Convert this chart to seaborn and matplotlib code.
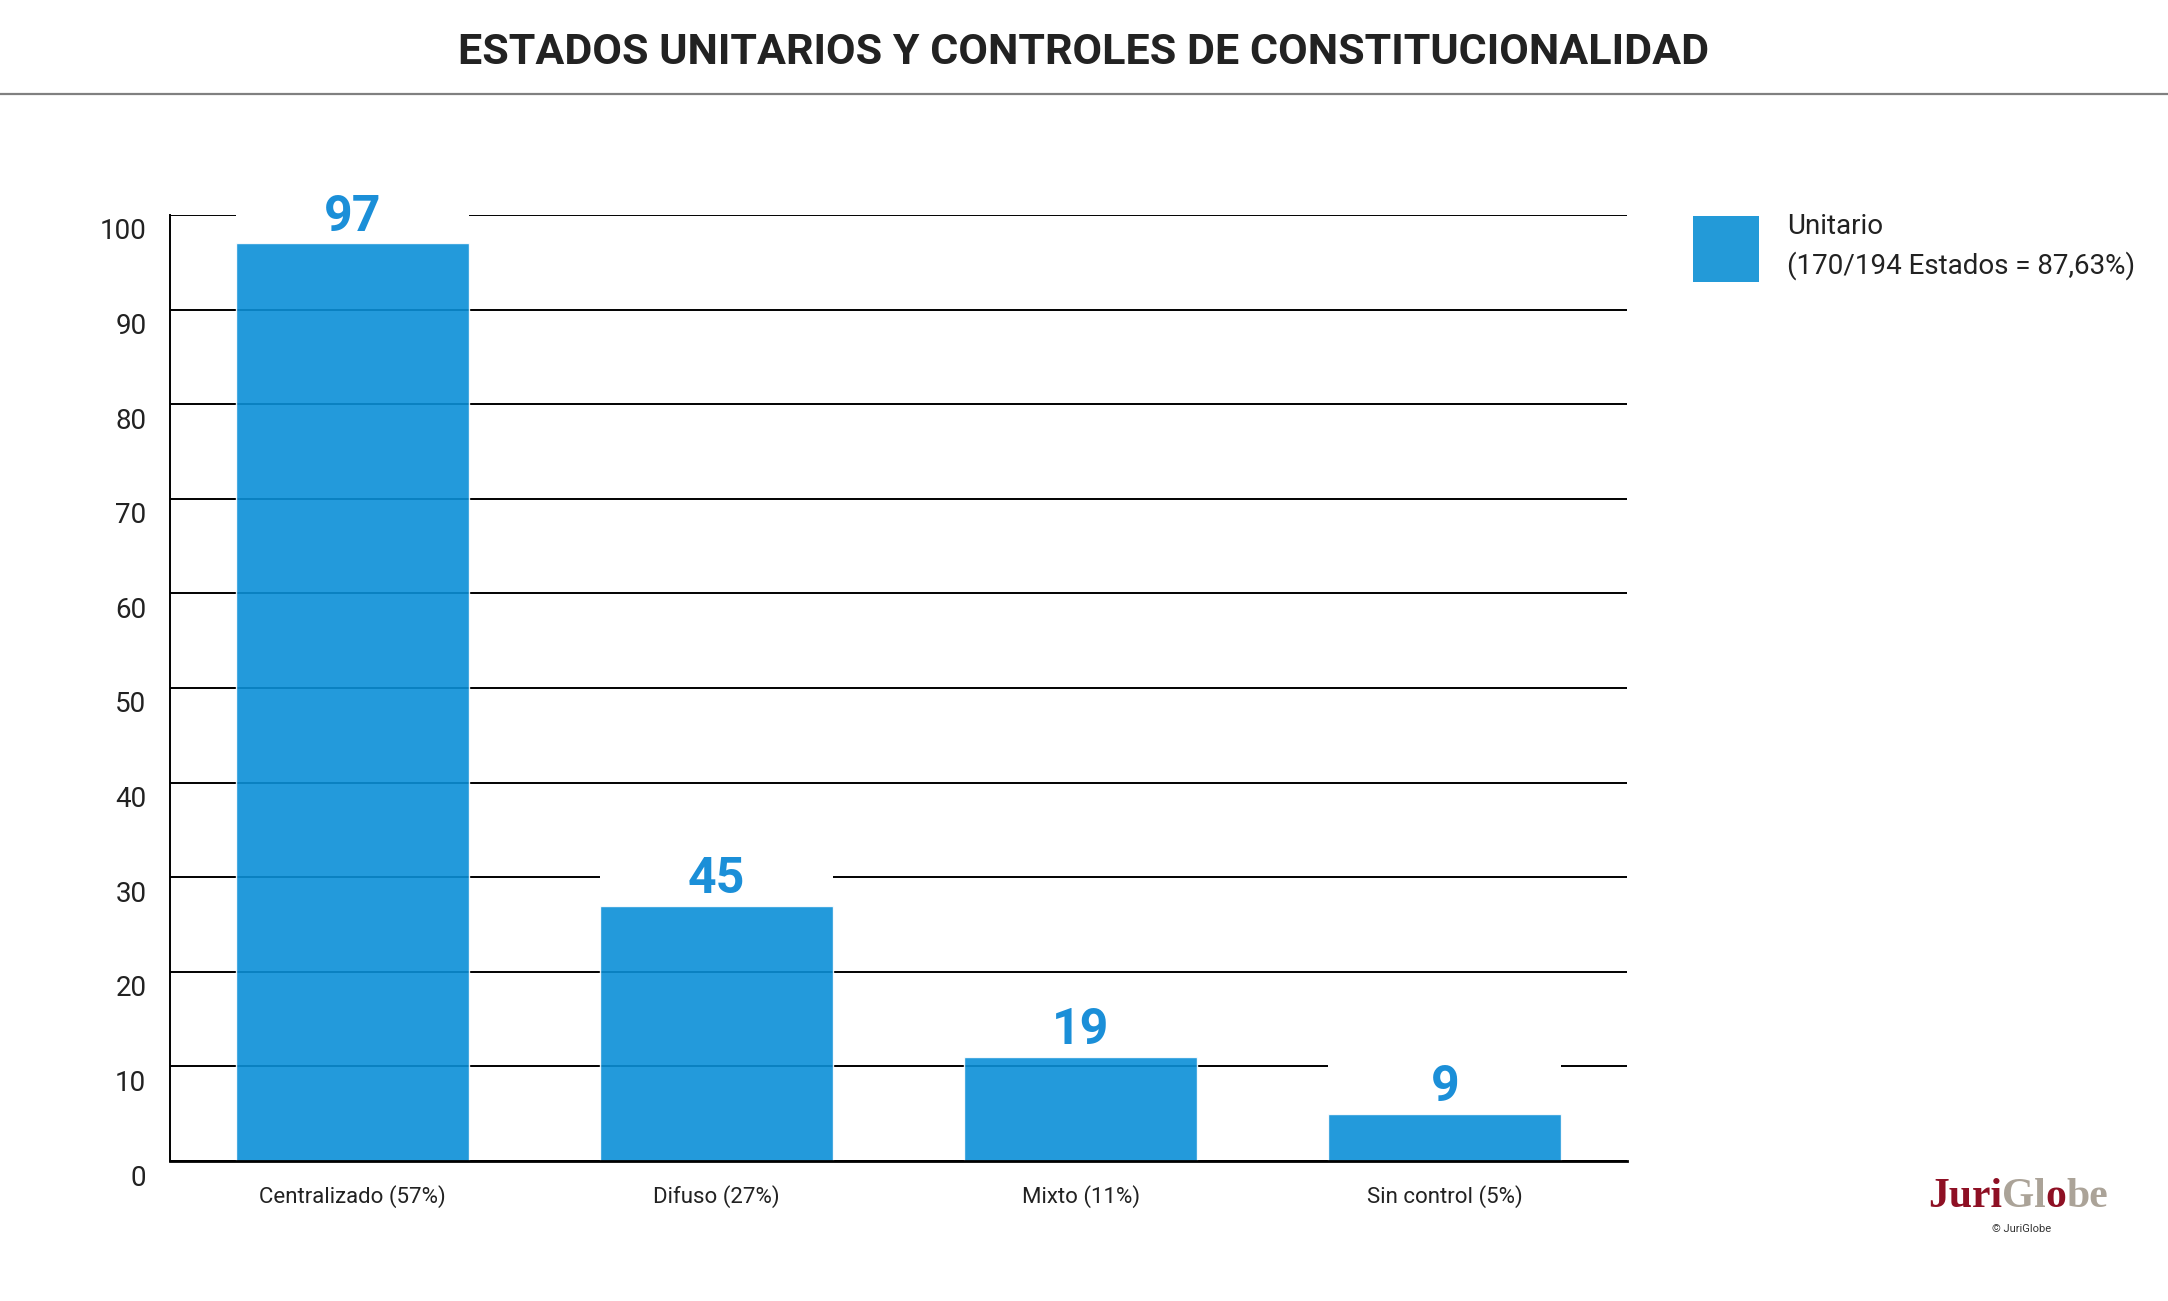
import matplotlib
matplotlib.use("Agg")
import matplotlib.pyplot as plt
import matplotlib.transforms as mtrans
from matplotlib.patches import Patch, Rectangle
from matplotlib.lines import Line2D
import pandas as pd
import seaborn as sns

# data
categories = ["Centralizado (57%)", "Difuso (27%)", "Mixto (11%)", "Sin control (5%)"]
bar_heights = [97, 27, 11, 5]
bar_labels = [97, 45, 19, 9]
y_ticks = list(range(0, 101, 10))
title = "ESTADOS UNITARIOS Y CONTROLES DE CONSTITUCIONALIDAD"
legend_label = "Unitario\n(170/194 Estados = 87,63%)"

bar_color = "#0b8fd7"
legend_color = "#239ad8"
label_color = "#1b8fd8"
text_color = "#222222"

sns.set_theme(style="white")
plt.rcParams["font.family"] = ["Roboto", "DejaVu Sans"]

df = pd.DataFrame({"categoria": categories, "valor": bar_heights})

W, H = 2168, 1301
fig = plt.figure(figsize=(W / 100, H / 100), dpi=100)
ax = fig.add_axes([170 / W, 1 - 1161 / H, (1627 - 170) / W, (1161 - 215) / H])

sns.barplot(data=df, x="categoria", y="valor", color=bar_color, width=0.64,
            saturation=1, alpha=0.9, ax=ax)

ax.set_ylim(0, 100)
ax.set_yticks(y_ticks)
ax.set_xlabel("")
ax.set_ylabel("")
ax.grid(axis="y", color="black", lw=1.4)
ax.set_axisbelow(True)
for side in ["top", "right"]:
    ax.spines[side].set_visible(False)
ax.spines["left"].set_color("black")
ax.spines["left"].set_linewidth(1.4)
ax.spines["bottom"].set_color("black")
ax.spines["bottom"].set_linewidth(2)

ax.tick_params(axis="y", length=0, pad=17, labelsize=20, labelcolor=text_color)
ax.tick_params(axis="x", length=0, pad=17, labelsize=16, labelcolor=text_color)

# y labels sit a bit below their gridline
shift = mtrans.ScaledTranslation(0, -0.14, fig.dpi_scale_trans)
for lab in ax.get_yticklabels():
    lab.set_transform(lab.get_transform() + shift)

# counts above bars, on a white strip that cuts the gridline
for patch, n in zip(ax.patches, bar_labels):
    top = patch.get_height()
    ax.add_patch(Rectangle((patch.get_x(), top + 0.5), patch.get_width(), 6,
                           facecolor="white", edgecolor="none", zorder=1.5, clip_on=False))
    ax.annotate(str(n), xy=(patch.get_x() + patch.get_width() / 2, top),
                xytext=(0, 9), textcoords="offset points", ha="center", va="baseline",
                fontsize=36, weight="bold", color=label_color, zorder=3,
                annotation_clip=False)

# title + rule
fig.text(0.5, 1 - 53 / H, title, ha="center", va="center", fontsize=31,
         weight="bold", color=text_color)
fig.add_artist(Line2D([0, 1], [1 - 94 / H] * 2, color="#808080", lw=1.6))

# legend
leg = fig.legend(handles=[Patch(facecolor=legend_color, edgecolor="none")],
                 labels=[legend_label], loc="upper left",
                 bbox_to_anchor=(1693 / W, 1 - 213 / H), frameon=False,
                 fontsize=20, handlelength=2.375, handleheight=3.28,
                 handletextpad=1.0, borderpad=0, borderaxespad=0)
for t in leg.get_texts():
    t.set_color(text_color)
    t.set_linespacing(1.5)

# logo
red = "#8e1024"
grey = "#aba398"
logo_font = dict(fontsize=30, family=["Liberation Serif", "DejaVu Serif"], weight="bold")
prev = fig.text(1928 / W, 1 - 1207 / H, "Juri", color=red, ha="left", va="baseline", **logo_font)
for piece, col in [("Gl", grey), ("o", red), ("be", grey)]:
    prev = ax.annotate(piece, xy=(1, 0), xycoords=prev, ha="left", va="bottom",
                       color=col, **logo_font)
fig.text(2022 / W, 1 - 1229 / H, "© JuriGlobe", ha="center", va="center",
         fontsize=8, color="#333333")

fig.savefig("out.png", dpi=100)
